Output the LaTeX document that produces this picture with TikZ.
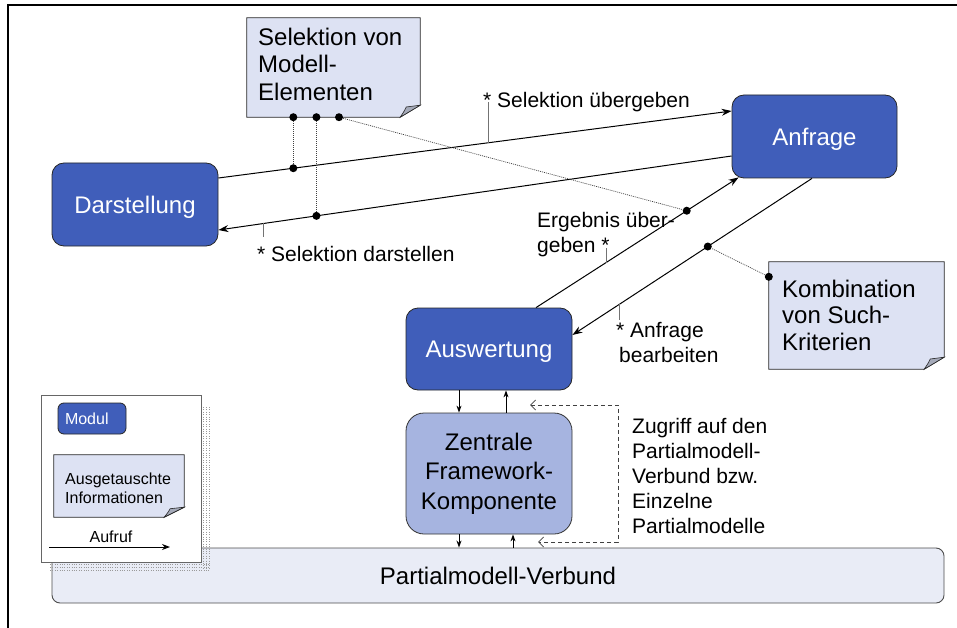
\documentclass[tikz,border=0pt]{standalone}
\usepackage{fontspec}
\setmainfont{Liberation Sans}
\usetikzlibrary{arrows.meta,calc}
\definecolor{modblue}{RGB}{64,94,186}
\definecolor{zentblue}{RGB}{166,180,224}
\definecolor{notefill}{RGB}{221,226,243}
\definecolor{pvfill}{RGB}{233,236,246}
\definecolor{foldgray}{RGB}{165,170,185}
\newcommand{\notebg}[3]{%
  \path[fill=notefill, draw=black!85, line width=0.8pt] (#1.north west) -- (#1.north east) -- ([yshift=#3]#1.south east) -- ([xshift=-#2]#1.south east) -- (#1.south west) -- cycle;
  \path[fill=foldgray, draw=black!85, line width=0.6pt] ([xshift=-#2]#1.south east) .. controls ([xshift=-0.8*#2,yshift=0.5*#3]#1.south east) .. ([xshift=-0.7*#2,yshift=0.85*#3]#1.south east) -- ([yshift=#3]#1.south east) -- cycle;
}
\begin{document}
\begin{tikzpicture}[x=1pt,y=-1pt,
  font=\fontsize{24}{27.6}\selectfont,
  modul/.style={rectangle, rounded corners=12pt, draw=black!85, line width=0.8pt, fill=modblue, text=white, minimum width=166pt, minimum height=83pt, inner sep=0pt, text depth=0pt},
  zentral/.style={rectangle, rounded corners=18pt, draw=black!80, line width=0.8pt, fill=zentblue, text=black, minimum width=166pt, minimum height=121pt, inner sep=0pt, align=center, font=\fontsize{24}{29.5}\selectfont},
  notebox/.style={rectangle, inner sep=0pt, draw=none},
  notetext/.style={align=left, inner sep=0pt},
  lbl/.style={font=\fontsize{21}{25}\selectfont, align=left, inner sep=0pt},
  smalltxt/.style={font=\fontsize{16}{19}\selectfont, align=left, inner sep=0pt},
  conn/.style={line width=1pt, -{Stealth[length=10pt,width=7pt]}},
  vconn/.style={line width=1pt, -{Stealth[length=7pt,width=5pt]}},
  dotc/.style={circle, fill=black, inner sep=0pt, minimum size=8pt},
  dotline/.style={line width=0.7pt, black!75, dash pattern=on 1pt off 1pt},
  tickline/.style={line width=0.5pt, black!55},
  dashar/.style={line width=0.8pt, black!75, dash pattern=on 4pt off 3pt, {Straight Barb[length=5pt,width=10pt]}-{Straight Barb[length=5pt,width=10pt]}},
  shadowline/.style={line width=0.6pt, black!40, dash pattern=on 0.8pt off 1.6pt}
]
\useasboundingbox (0,0) rectangle (957,628);
% frame
\draw[line width=2.5pt] (8,628) -- (8,5) -- (957,5);

% Partialmodell-Verbund
\node[rectangle, rounded corners=8pt, draw=black!70, line width=0.9pt, fill=pvfill, minimum width=892pt, minimum height=55pt, inner sep=0pt] (pv) at (498,575.5) {Partialmodell-Verbund};

% legend shadow and box
\foreach \o in {0,3,6} {
  \draw[shadowline] (203+\o,407) -- (203+\o,570);
  \draw[shadowline] (50,564+\o) -- (209,564+\o);
}
\node[rectangle, draw=black!60, line width=0.8pt, fill=white, minimum width=160pt, minimum height=167pt, inner sep=0pt] (leg) at (121,478.5) {};
\node[rectangle, rounded corners=6pt, draw=black!85, line width=0.8pt, fill=modblue, text=white, minimum width=68pt, minimum height=31pt, inner xsep=7pt, inner ysep=0pt, text width=54pt, align=left, font=\fontsize{16}{19}\selectfont, text depth=0pt] (legmod) at (92,418.5) {Modul};
\node[notebox, minimum width=130pt, minimum height=62pt] (legnote) at (119,486) {};
\notebg{legnote}{20pt}{10pt}
\node[smalltxt, anchor=north west] (legnotetext) at (65,472.5) {Ausgetauschte\\Informationen};
\node[smalltxt, anchor=base] (legauf) at (111,542) {Aufruf};
\coordinate (la1) at (49,547);
\coordinate (la2) at (170,547);
\draw[line width=1pt, -{Stealth[length=8pt,width=6pt]}] (la1) -- (la2);

% modules
\node[modul] (darst) at (135,204.5) {Darstellung};
\node[modul, minimum width=165pt] (anfr) at (814.5,136.5) {Anfrage};
\node[modul, minimum height=82pt] (ausw) at (489,349) {Auswertung};
\node[zentral] (zent) at (489,473.5) {Zentrale\\Framework-\\Komponente};

% notes
\node[notebox, minimum width=173pt, minimum height=99pt] (sel) at (333.5,67.5) {};
\notebg{sel}{20pt}{12pt}
\node[notetext, anchor=north west] (seltext) at (258,27.5) {Selektion von\\Modell-\\Elementen};
\node[notebox, minimum width=175pt, minimum height=107pt] (komb) at (856.5,315.5) {};
\notebg{komb}{20pt}{12pt}
\node[notetext, anchor=north west, font=\fontsize{24}{26.8}\selectfont] (kombtext) at (782,279.5) {Kombination\\von Such-\\Kriterien};

% main connectors
\draw[conn] ([yshift=26.5pt]darst.east) -- ([yshift=25.5pt]anfr.west)
  coordinate[pos=0.146] (d1) coordinate[pos=0.525] (t1);
\draw[conn] ([yshift=-19.5pt]anfr.west) -- ([yshift=-25.5pt]darst.east)
  coordinate[pos=0.809] (d2) coordinate[pos=0.912] (t2);
\draw[conn] ([xshift=47pt]ausw.north) -- ([xshift=7pt,yshift=1pt]anfr.south west)
  coordinate[pos=0.744] (d3) coordinate[pos=0.345] (t3);
\draw[conn] ([xshift=-2.5pt]anfr.south) -- ([yshift=14pt]ausw.east)
  coordinate[pos=0.435] (d4) coordinate[pos=0.804] (t4);

% dots and dotted links
\node[dotc] (dd1) at (d1) {};
\node[dotc] (dd2) at (d2) {};
\node[dotc] (dd3) at (d3) {};
\node[dotc] (dd4) at (d4) {};
\node[dotc] (s1) at (d1 |- sel.south) {};
\node[dotc] (s2) at (d2 |- sel.south) {};
\node[dotc] (s3) at ([xshift=5.5pt]sel.south) {};
\node[dotc] (k1) at ([yshift=-15pt]komb.north west) {};
\draw[dotline] (s1) -- (dd1);
\draw[dotline] (s2) -- (dd2);
\draw[dotline] (s3) -- (dd3);
\draw[dotline] (k1) -- (dd4);

% labels and ticks
\node[lbl, anchor=base west] (l1) at (483,108) {* Selektion übergeben};
\draw[tickline] (t1) -- ++(0,-41);
\node[lbl, anchor=base west] (l2) at (257,261) {* Selektion darstellen};
\draw[tickline] (t2) -- ++(0,14);
\node[lbl, anchor=north west] (l3) at (537,211.7) {Ergebnis über-\\geben *};
\draw[tickline] (t3) -- ++(0,-15);
\node[lbl, anchor=north west] (l4) at (616,321.7) {* Anfrage\\\hspace*{3pt}bearbeiten};
\draw[tickline] (t4) -- ++(0,16);
\node[lbl, anchor=north west] (l5) at (632,417.7) {Zugriff auf den\\Partialmodell-\\Verbund bzw.\\Einzelne\\Partialmodelle};

% vertical connectors
\draw[vconn] ([xshift=-30pt]ausw.south) -- ([xshift=-30pt]zent.north);
\draw[vconn] ([xshift=17pt]zent.north) -- ([xshift=17pt]ausw.south);
\draw[vconn] ([xshift=-30pt]zent.south) -- ([xshift=-30pt]zent.south |- pv.north);
\draw[vconn] ([xshift=24pt]zent.south |- pv.north) -- ([xshift=24pt]zent.south);

% dashed access arrows
\coordinate (z1) at (618,405);
\coordinate (z2) at (618,542);
\coordinate (g1) at (530,405);
\coordinate (g2) at (538,542);
\draw[dashar] (g1) -- (z1) -- (z2) -- (g2);
\end{tikzpicture}
\end{document}
